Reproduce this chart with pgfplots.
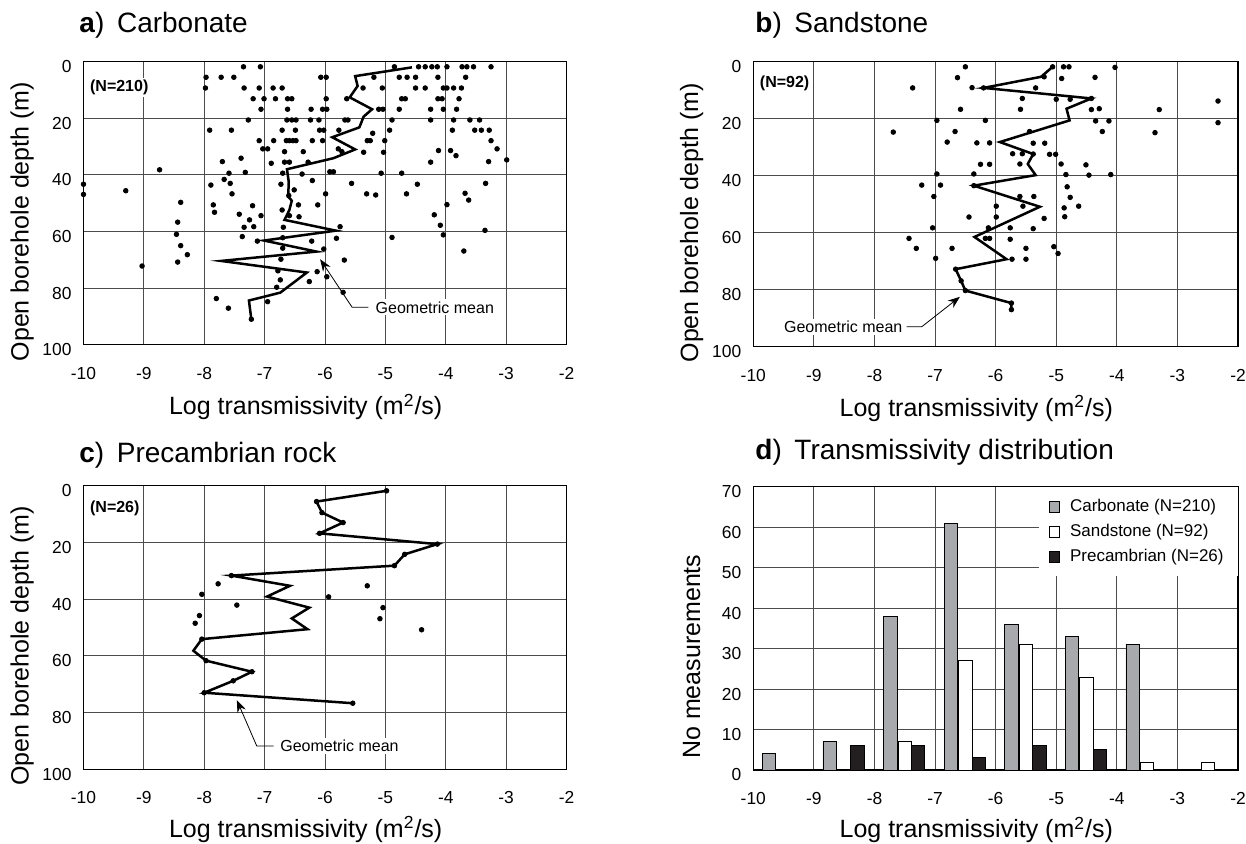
\documentclass[border=0pt]{standalone}
\usepackage{fontspec}
\setmainfont{Liberation Sans}
\usepackage{pgfplots}
\pgfplotsset{compat=1.18}
\usetikzlibrary{arrows.meta}

\newcommand{\tickfont}{\fontsize{8.7}{10}\selectfont}
\newcommand{\labfont}{\fontsize{12.5}{15}\selectfont}
\newcommand{\titfont}{\fontsize{14}{16}\selectfont}
\newcommand{\notefont}{\fontsize{8}{9.5}\selectfont}

\definecolor{carb}{RGB}{167,169,172}
\definecolor{prec}{RGB}{35,31,32}

\tikzset{
  nlab/.style={anchor=west, fill=white, inner sep=1pt, font=\notefont\bfseries},
  glab/.style={fill=white, inner sep=1pt, font=\notefont},
  lead/.style={black, line width=0.4pt, -{Stealth[length=6pt,width=4.5pt]}},
}

\pgfplotsset{
  panel/.style={
    scale only axis, anchor=south west,
    xmin=-10, xmax=-2,
    xtick={-10,-9,...,-2},
    xticklabels={-10,-9,-8,-7,-6,-5,-4,-3,-2},
    grid=major,
    grid style={black!70, line width=0.45pt},
    axis line style={black, line width=0.6pt},
    major tick length=0pt,
    tick label style={font=\tickfont},
    /pgf/number format/assume math mode=true,
    xticklabel style={yshift=-7.7pt},
    yticklabel style={xshift=-2.5pt, yshift=-2.5pt},
    xlabel={Log transmissivity (m\textsuperscript{2}/s)},
    label style={font=\labfont},
    ylabel style={at={(axis description cs:-0.127,0.435)}, anchor=center},
  },
  depth/.style={
    panel, clip=false,
    ymin=0, ymax=100, y dir=reverse,
    ytick={0,20,...,100},
    ylabel={Open borehole depth (m)},
  },
  dots/.style={only marks, mark=*, mark size=1.15pt, black},
  mean/.style={black, line width=1.25pt, mark=none},
}

\begin{document}
\begin{tikzpicture}
\useasboundingbox (0,0) rectangle (623pt,422pt);

\node[anchor=base west, inner sep=0pt, font=\titfont] at (39.5pt,405.9pt) {\textbf{a})\hspace{0.45em}Carbonate};
\node[anchor=base west, inner sep=0pt, font=\titfont] at (377.5pt,405.9pt) {\textbf{b})\hspace{0.45em}Sandstone};
\node[anchor=base west, inner sep=0pt, font=\titfont] at (39.5pt,190.6pt) {\textbf{c})\hspace{0.45em}Precambrian rock};
\node[anchor=base west, inner sep=0pt, font=\titfont] at (377.5pt,192pt) {\textbf{d})\hspace{0.45em}Transmissivity distribution};

% a) Carbonate
\begin{axis}[depth, at={(41.75pt,249.65pt)}, width=241.5pt, height=141.5pt,
  xlabel style={at={(axis description cs:0.46,-0.248)}, anchor=base}]
\addplot[dots] coordinates {
(-7.35,1.8) (-7.07,1.8) (-4.85,1.8) (-4.45,1.8) (-4.34,1.8) (-4.23,1.8) (-4.14,1.8) (-3.98,1.8) (-3.73,1.8) (-3.65,1.8) (-3.54,1.8) (-3.25,1.8)
(-7.97,5.5) (-7.72,5.5) (-7.51,5.5) (-6.07,5.5) (-5.98,5.5) (-5.19,5.5) (-4.77,5.5) (-4.64,5.5) (-4.50,5.5) (-4.13,5.5) (-3.67,5.5)
(-7.98,9.3) (-7.34,9.3) (-7.09,9.3) (-6.86,9.3) (-6.71,9.3) (-5.37,9.3) (-5.05,9.3) (-4.50,9.3) (-4.34,9.3) (-4.04,9.3) (-3.98,9.3) (-3.87,9.3) (-3.74,9.3)
(-7.19,13.1) (-7.01,13.1) (-6.82,13.1) (-6.62,13.1) (-6.55,13.1) (-5.98,13.1) (-5.64,13.1) (-4.73,13.1) (-4.67,13.1) (-4.13,13.1) (-4.06,13.1) (-3.78,13.1)
(-7.06,16.8) (-6.62,16.8) (-6.23,16.8) (-6.04,16.8) (-5.97,16.8) (-5.11,16.8) (-5.04,16.8) (-4.77,16.8) (-4.25,16.8) (-4.04,16.8) (-3.82,16.8)
(-7.27,20.6) (-6.63,20.6) (-6.55,20.6) (-6.48,20.6) (-6.24,20.6) (-6.10,20.6) (-5.67,20.6) (-5.62,20.6) (-4.89,20.6) (-4.25,20.6) (-3.87,20.6) (-3.60,20.6) (-3.44,20.6)
(-7.91,24.2) (-7.55,24.2) (-6.71,24.2) (-6.49,24.2) (-6.09,24.2) (-6.02,24.2) (-5.77,24.2) (-5.21,25.3) (-4.93,24.2) (-3.89,24.2) (-3.52,24.2) (-3.41,24.2) (-3.28,24.2)
(-7.09,27.9) (-6.85,27.9) (-6.64,27.9) (-6.59,27.9) (-6.53,27.9) (-6.48,27.9) (-6.21,27.9) (-6.04,27.9) (-5.30,27.9) (-5.25,27.9) (-5.01,27.9) (-3.25,27.9)
(-7.03,30.8) (-6.95,30.8) (-6.67,31.8) (-6.36,31.8) (-5.78,30.8) (-5.72,31.8) (-5.36,32.0) (-5.03,32.0) (-4.12,31.4) (-3.92,31.4) (-3.83,33.2) (-3.15,30.8)
(-7.70,35.3) (-7.39,34.1) (-6.89,35.9) (-6.67,35.5) (-6.59,35.5) (-6.28,35.5) (-4.25,35.5) (-3.29,35.3) (-2.99,34.7)
(-8.74,38.2) (-7.59,39.4) (-7.32,39.1) (-6.70,39.4) (-6.38,39.7) (-5.92,38.9) (-5.86,38.9) (-5.07,39.4) (-4.73,39.4)
(-7.89,43.6) (-7.67,41.6) (-7.57,43.0) (-6.73,43.3) (-6.51,45.3) (-6.21,42.0) (-5.56,43.0) (-4.47,43.3) (-3.34,43.0)
(-10.0,43.3) (-10.0,46.9) (-9.30,45.6) (-8.39,49.7)
(-7.54,46.7) (-5.99,46.7) (-5.31,46.7) (-5.16,47.1) (-4.65,46.7) (-3.68,46.5) (-3.62,48.9) (-3.98,50.5) (-6.60,47.3)
(-7.85,50.6) (-7.20,50.9) (-6.44,50.6) (-6.12,50.6)
(-7.83,53.2) (-7.42,53.9) (-7.06,54.4) (-6.71,52.4) (-6.59,54.4) (-6.43,54.8) (-4.19,54.1)
(-7.25,55.9) (-7.34,58.5) (-7.18,58.3) (-8.44,56.7) (-5.75,58.3) (-4.09,57.8) (-6.69,58.5)
(-8.46,61.0) (-7.37,61.8) (-4.89,62.1) (-4.04,61.2) (-3.35,59.6) (-5.81,62.4) (-6.70,62.2)
(-7.12,63.4) (-6.22,63.4)
(-8.39,65.0) (-8.28,68.2) (-6.70,65.9) (-6.02,66.2) (-3.70,66.9)
(-8.44,70.8) (-9.03,72.2) (-6.73,69.8) (-5.68,70.1) (-6.13,74.2) (-5.97,76.0)
(-6.78,73.9) (-6.74,77.1) (-6.26,77.7) (-6.80,79.7)
(-5.70,81.5)
(-7.80,83.7) (-6.95,84.8) (-7.60,87.1)
(-7.22,91.0)
};
\addplot[mean] coordinates {
(-4.56,2.0) (-5.50,5.1) (-5.46,8.6) (-5.59,12.6) (-5.22,16.8) (-5.36,19.4) (-5.43,23.2)
(-5.88,26.7) (-5.50,31.0) (-5.86,34.1) (-6.63,38.0) (-6.60,42.5) (-6.61,47.7) (-6.55,49.1)
(-6.59,52.4) (-6.67,55.9) (-5.82,59.7) (-7.01,63.2) (-6.14,67.1) (-7.72,70.4) (-6.30,74.5)
(-6.74,81.6) (-7.26,84.4) (-7.22,91.0)
};
\node[nlab] at (axis cs:-9.93,9.2) {(N=210)};
\draw[lead] (axis cs:-5.28,86.8) -- (axis cs:-5.55,86.8) -- (axis cs:-6.08,69.8);
\node[glab, anchor=west] at (axis cs:-5.2,86.8) {Geometric mean};
\end{axis}

% b) Sandstone
\begin{axis}[depth, at={(376.65pt,248.65pt)}, width=242.35pt, height=142.5pt,
  xlabel style={at={(axis description cs:0.46,-0.245)}, anchor=base}]
\addplot[dots] coordinates {
(-6.50,1.8) (-5.06,1.8) (-4.88,1.8) (-4.79,1.8) (-4.03,2.0)
(-6.63,5.6) (-5.20,5.3) (-4.91,5.9) (-4.36,5.5)
(-7.37,9.2) (-6.39,9.1) (-6.20,9.2) (-5.34,9.2)
(-5.56,12.9) (-5.00,13.2) (-4.77,13.2) (-4.42,12.9) (-2.33,13.8)
(-6.58,16.7) (-5.59,16.7) (-4.42,16.8) (-4.29,16.5) (-3.30,16.8)
(-6.97,20.6) (-6.17,20.6) (-4.35,20.8) (-4.13,20.8) (-2.33,21.4)
(-7.69,24.7) (-6.67,24.5) (-5.44,24.5) (-4.24,24.5) (-3.37,24.9)
(-6.80,28.2) (-6.31,28.5) (-6.10,28.5) (-5.38,28.6) (-5.19,28.6)
(-5.72,32.3) (-5.56,32.3) (-5.38,32.4) (-5.11,32.5) (-5.01,32.5)
(-6.25,36.0) (-6.10,36.0) (-5.60,35.9) (-4.92,35.9) (-4.51,36.2)
(-6.97,39.4) (-6.36,39.4) (-4.84,39.6) (-4.46,39.8) (-4.10,39.6)
(-7.22,43.3) (-6.91,43.3) (-6.36,43.5) (-4.82,43.9)
(-7.02,47.3) (-5.60,47.3) (-5.37,47.3) (-4.77,47.6)
(-5.99,50.7) (-5.55,50.7) (-4.87,51.3) (-4.63,50.7)
(-6.44,54.5) (-5.99,54.5) (-5.20,55.0) (-4.86,54.4)
(-7.04,58.3) (-6.12,58.3) (-5.76,58.3) (-5.38,58.6)
(-7.43,62.0) (-6.17,62.0) (-6.10,62.0) (-5.76,62.3)
(-5.04,64.9) (-4.97,67.3) (-7.31,65.5) (-6.72,65.5) (-5.50,65.5)
(-6.99,69.0) (-5.73,69.3) (-5.50,69.3)
(-6.66,72.8) (-6.57,76.9) (-6.50,80.3) (-5.74,84.7) (-5.74,87.0)
};
\addplot[mean] coordinates {
(-5.06,1.8) (-5.25,5.3) (-6.20,9.2) (-4.42,12.9) (-4.83,16.5) (-4.78,20.6) (-5.93,28.2)
(-5.38,32.4) (-5.47,35.9) (-5.34,39.8) (-6.36,43.5) (-5.27,50.9) (-6.35,61.5) (-5.82,69.3)
(-6.66,72.8) (-6.57,76.9) (-6.50,80.3) (-5.74,84.7) (-5.74,87.0)
};
\node[nlab] at (axis cs:-9.93,7.6) {(N=92)};
\draw[lead] (axis cs:-7.47,93.0) -- (axis cs:-7.22,93.0) -- (axis cs:-6.59,82.5);
\node[glab, anchor=east] at (axis cs:-7.50,93.0) {Geometric mean};
\end{axis}

% c) Precambrian rock
\begin{axis}[depth, at={(41.75pt,37.35pt)}, width=241.5pt, height=141.8pt,
  xlabel style={at={(axis description cs:0.46,-0.24)}, anchor=base}]
\addplot[dots] coordinates {
(-4.98,1.8) (-6.14,5.6) (-6.05,9.5) (-5.70,13.0) (-6.09,16.8) (-4.14,20.6) (-4.68,24.2)
(-4.85,28.2) (-7.55,31.7) (-8.04,54.1) (-7.97,61.7) (-7.21,65.6) (-7.52,68.8) (-8.00,73.0)
(-5.54,76.7)
(-7.77,34.6) (-8.04,38.3) (-7.46,42.1) (-8.08,45.8) (-8.15,48.5) (-5.94,39.2) (-5.30,35.3)
(-5.04,43.0) (-5.09,46.9) (-4.40,50.8)
};
\addplot[mean] coordinates {
(-4.98,1.8) (-6.14,5.6) (-6.05,9.5) (-5.70,13.0) (-6.09,16.8) (-4.14,20.6) (-4.68,24.2)
(-4.85,28.2) (-7.55,31.7) (-6.58,35.3) (-6.96,39.1) (-6.26,43.0) (-6.55,46.8) (-6.29,50.6)
(-8.04,54.1) (-8.18,58.2) (-7.97,61.7) (-7.21,65.6) (-7.52,68.8) (-8.00,73.0) (-5.54,76.7)
};
\node[nlab] at (axis cs:-9.93,8.0) {(N=26)};
\draw[lead] (axis cs:-6.85,91.8) -- (axis cs:-7.13,91.8) -- (axis cs:-7.46,75.6);
\node[glab, anchor=west] at (axis cs:-6.78,91.8) {Geometric mean};
\end{axis}

% d) Transmissivity distribution
\begin{axis}[panel, at={(376.65pt,37pt)}, width=242.35pt, height=141.65pt,
  ymin=0, ymax=70, ytick={0,10,...,70},
  ylabel={No measurements},
  ylabel style={at={(axis description cs:-0.127,0.4)}, anchor=center},
  xlabel style={at={(axis description cs:0.46,-0.24)}, anchor=base},
  legend style={at={(1,1)}, anchor=north east, draw=none, fill=white,
    font=\fontsize{8.5}{10}\selectfont, row sep=0.8pt,
    inner xsep=5pt, inner ysep=4pt, cells={anchor=west}},
  legend image code/.code={\draw[#1, draw=black, line width=0.4pt] (0pt,-2.7pt) rectangle (5.4pt,2.7pt); \path[draw=none, fill=none] (5.4pt,0pt) rectangle (8.5pt,0.1pt);},
]
\addplot[ybar, bar width=0.22, bar shift=0pt, fill=carb, draw=black, line width=0.4pt]
  coordinates {(-9.74,4) (-8.74,7) (-7.74,38) (-6.74,61) (-5.74,36) (-4.74,33) (-3.74,31)};
\addlegendentry{Carbonate (N=210)}
\addplot[ybar, bar width=0.22, bar shift=0pt, fill=white, draw=black, line width=0.4pt]
  coordinates {(-7.50,7) (-6.50,27) (-5.50,31) (-4.50,23) (-3.50,2) (-2.50,2)};
\addlegendentry{Sandstone (N=92)}
\addplot[ybar, bar width=0.22, bar shift=0pt, fill=prec, draw=black, line width=0.4pt]
  coordinates {(-8.28,6) (-7.28,6) (-6.28,3) (-5.28,6) (-4.28,5)};
\addlegendentry{Precambrian (N=26)}
\end{axis}
\end{tikzpicture}
\end{document}
